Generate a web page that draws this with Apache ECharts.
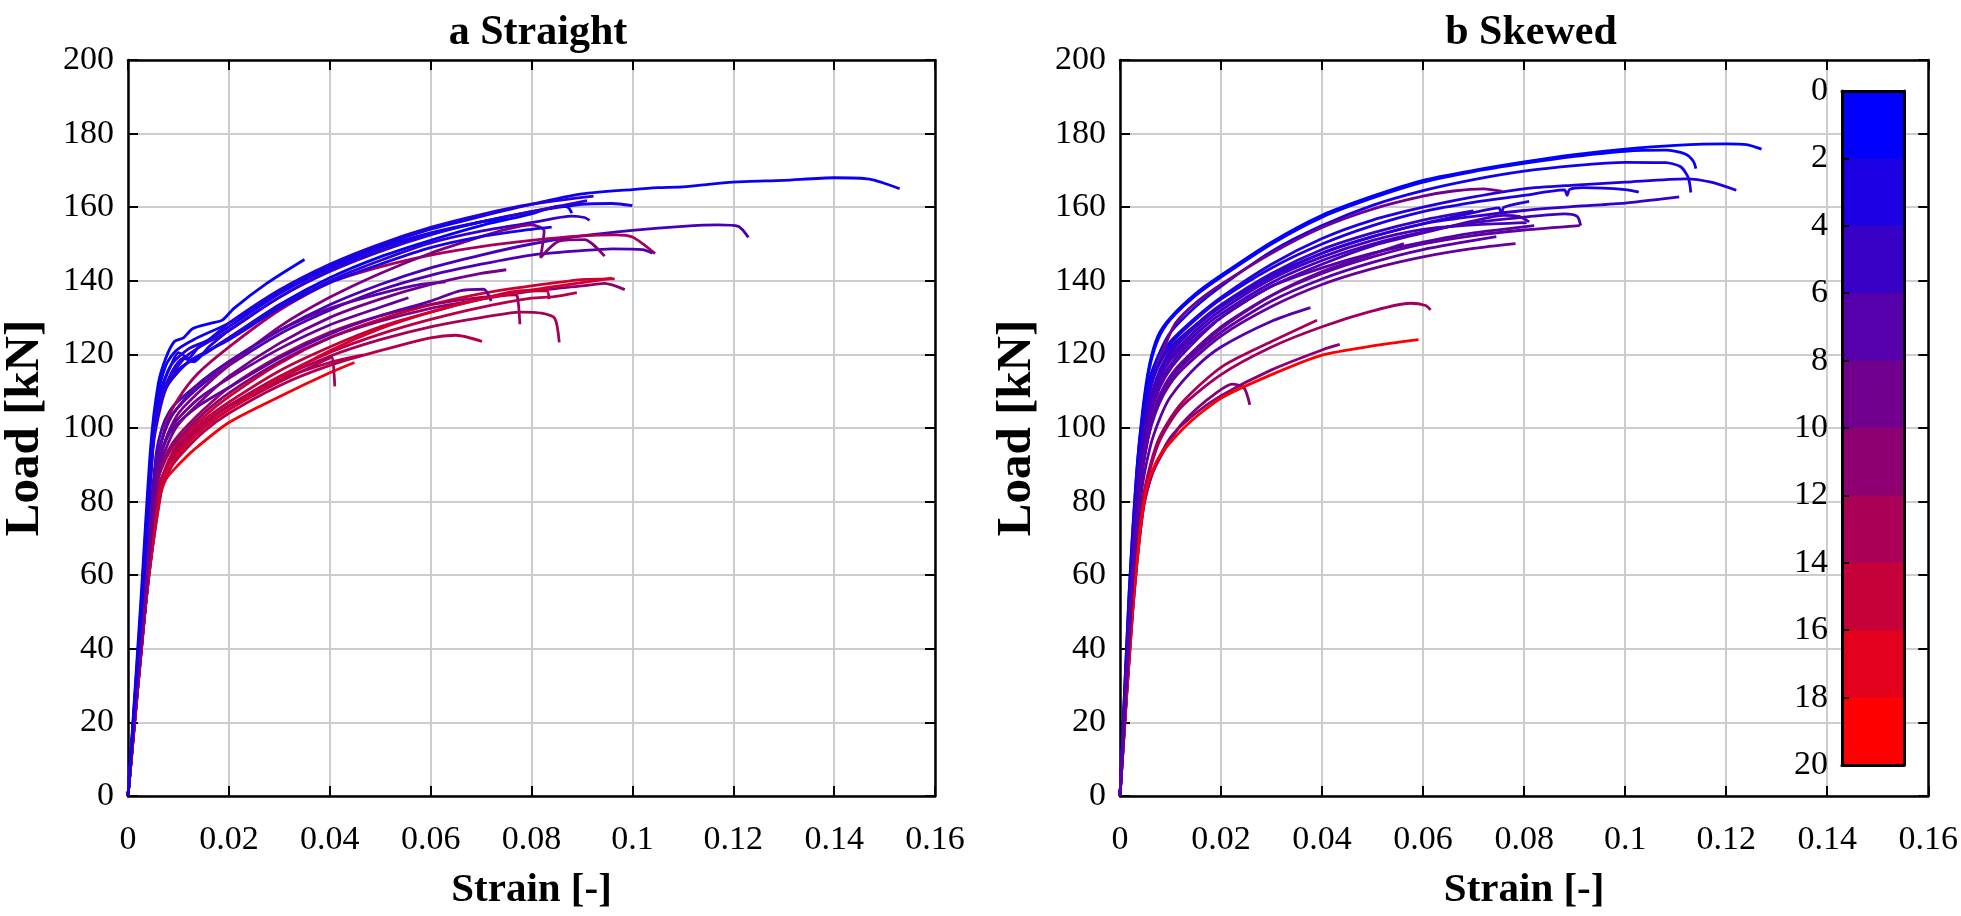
<!DOCTYPE html>
<html>
<head>
<meta charset="utf-8">
<script src="https://cdn.jsdelivr.net/npm/echarts@6/dist/echarts.min.js"></script>
<style>html,body{margin:0;padding:0;background:#fff;}#chart{width:1961px;height:916px;}</style>
</head>
<body>
<div id="chart"></div>
<script>
// ---- tick values ----
const strainTicks = [0, 0.02, 0.04, 0.06, 0.08, 0.1, 0.12, 0.14, 0.16];
const loadTicks = [0, 20, 40, 60, 80, 100, 120, 140, 160, 180, 200];
const colorbarTicks = [0, 2, 4, 6, 8, 10, 12, 14, 16, 18, 20];

// ---- panel a: Straight (colour level of each curve, then [strain, load] points) ----
const straightLevels = [1, 0.5, 3, 2, 0, 4, 5.5, 13, 6, 10, 16, 11, 15, 14.5, 13, 12.5, 7, 8, 7.5, 14, 19, 13, 14, 16.5, 2, 4, 9, 1.5];
const straightCurves = [
 [[0,0],[0.0025,50],[0.0045,92],[0.0058,108],[0.0075,117],[0.0095,121],[0.013,124],[0.02,128.5],[0.03,137],[0.04,144],[0.05,149.5],[0.06,154],[0.07,157.5],[0.08,160.8],[0.09,163.6],[0.1,164.8],[0.105,165.3],[0.11,165.5],[0.12,166.8],[0.13,167.3],[0.14,168],[0.147,167.6],[0.153,165]],
 [[0,0],[0.0025,52],[0.0045,95],[0.006,112],[0.0075,119],[0.0092,123.5],[0.011,124.5],[0.0128,127],[0.0165,128.5],[0.0187,129.3],[0.021,132.5],[0.0275,139.3],[0.035,145.8]],
 [[0,0],[0.003,55],[0.005,98],[0.0065,110],[0.0085,117],[0.012,121.5],[0.016,124],[0.02,128.5],[0.03,137.5],[0.04,144.5],[0.05,150],[0.06,154.5],[0.07,158],[0.08,160.8],[0.0923,163]],
 [[0,0],[0.003,55],[0.005,96],[0.0065,108],[0.009,116],[0.011,119],[0.013,118],[0.016,122],[0.02,126.5],[0.03,135.5],[0.04,142.8],[0.05,148.3],[0.06,152.7],[0.07,156],[0.08,158.8],[0.09,160.8],[0.096,161],[0.1,160.4]],
 [[0,0],[0.003,58],[0.0052,100],[0.0065,108],[0.008,113],[0.011,117],[0.015,120],[0.02,124.5],[0.03,133.5],[0.04,140.8],[0.05,146.5],[0.06,151],[0.07,155],[0.08,158.2],[0.0855,160.3],[0.0872,160],[0.088,158.4]],
 [[0,0],[0.003,55],[0.005,95],[0.0065,106],[0.008,112],[0.012,118],[0.016,121],[0.02,124.5],[0.03,133],[0.04,140],[0.05,145.5],[0.06,150.3],[0.07,153.5],[0.08,155.8],[0.088,157.6],[0.0905,157.2],[0.0915,156.4]],
 [[0,0],[0.003,52],[0.0055,92],[0.007,101],[0.009,106],[0.014,112],[0.02,118],[0.03,126.5],[0.04,133.5],[0.05,139],[0.06,143.5],[0.07,147],[0.08,150],[0.09,152.2],[0.1,153.7],[0.11,154.8],[0.117,155.2],[0.121,154.8],[0.123,151.8]],
 [[0,0],[0.0035,55],[0.006,90],[0.0075,101],[0.01,108],[0.014,115],[0.02,122],[0.03,132],[0.04,139.5],[0.05,143.8],[0.06,147],[0.07,149.3],[0.08,151],[0.09,152.2],[0.0965,152.5],[0.1,151.9],[0.1045,147.4]],
 [[0,0],[0.003,52],[0.0055,90],[0.007,98],[0.009,104],[0.014,111],[0.02,117],[0.03,125.5],[0.04,132],[0.05,137.5],[0.06,141.5],[0.07,144.5],[0.08,147],[0.09,148.2],[0.096,148.7],[0.102,148.5],[0.104,147.5]],
 [[0,0],[0.0035,55],[0.006,88],[0.0075,97],[0.01,104],[0.015,111],[0.02,117],[0.03,127.5],[0.04,135.5],[0.05,142],[0.06,147.5],[0.07,152],[0.075,154],[0.08,155.2],[0.0825,153.6],[0.0818,146.3],[0.0855,150.8],[0.0905,151.2],[0.0945,146.7]],
 [[0,0],[0.0035,55],[0.0065,85],[0.008,91],[0.01,96],[0.015,103],[0.02,108.5],[0.03,117.5],[0.04,124.5],[0.05,129.5],[0.06,133.5],[0.07,136.5],[0.08,138.6],[0.09,140.3],[0.0965,140.5]],
 [[0,0],[0.0035,55],[0.006,86],[0.008,93],[0.01,97],[0.015,104],[0.02,109.5],[0.03,118],[0.04,124.5],[0.05,129],[0.06,132.5],[0.07,135],[0.08,137.2],[0.09,138.6],[0.0945,139.3],[0.0985,137.6]],
 [[0,0],[0.0035,52],[0.0065,84],[0.008,90],[0.01,95],[0.015,102],[0.02,107],[0.03,115.5],[0.04,122],[0.05,127.5],[0.06,131.5],[0.07,135],[0.078,137.3],[0.083,137.3],[0.0835,135]],
 [[0,0],[0.0035,52],[0.0065,83],[0.008,89],[0.01,94],[0.015,101],[0.02,106],[0.03,114],[0.04,120.5],[0.05,125.5],[0.06,129.5],[0.07,132.8],[0.08,135.3],[0.0845,135.7],[0.089,136.8]],
 [[0,0],[0.0035,52],[0.006,84],[0.008,90],[0.01,95],[0.015,101],[0.02,106],[0.03,113.5],[0.04,119.5],[0.05,124],[0.06,127.5],[0.07,130],[0.078,131.5],[0.082,131.2],[0.0846,129.8],[0.0855,123.3]],
 [[0,0],[0.0035,55],[0.006,87],[0.008,94],[0.01,98],[0.015,105],[0.02,111],[0.03,119.5],[0.04,126],[0.05,130.5],[0.06,133.5],[0.07,135.5],[0.0765,136.2],[0.0772,135.8],[0.0777,128.2]],
 [[0,0],[0.003,52],[0.0055,90],[0.007,98],[0.009,104],[0.014,112],[0.02,118],[0.03,126.5],[0.04,132.5],[0.05,136.5],[0.058,139],[0.063,139.7]],
 [[0,0],[0.003,52],[0.0055,88],[0.007,95],[0.009,101],[0.014,108],[0.02,113.5],[0.03,121.5],[0.04,128],[0.05,132.8],[0.0556,135.4]],
 [[0,0],[0.003,52],[0.0055,88],[0.007,95],[0.009,100],[0.014,106],[0.02,111],[0.03,119],[0.04,125.5],[0.05,130.5],[0.06,134.5],[0.066,137.3],[0.0705,137.7],[0.072,134.5]],
 [[0,0],[0.0035,52],[0.0065,82],[0.008,88],[0.01,92],[0.015,99],[0.02,104],[0.03,111.5],[0.04,117],[0.05,121],[0.06,124.5],[0.065,125.2],[0.0702,123.5]],
 [[0,0],[0.0035,55],[0.0055,78],[0.0075,86],[0.01,90],[0.013,94],[0.02,101.5],[0.03,108.5],[0.04,115],[0.0449,117.8]],
 [[0,0],[0.0035,52],[0.006,82],[0.008,88],[0.01,93],[0.015,100],[0.02,105],[0.03,112.5],[0.04,119],[0.0405,119.3],[0.041,111.3]],
 [[0,0],[0.0035,52],[0.006,84],[0.008,90],[0.01,94],[0.015,101],[0.02,106],[0.03,113],[0.04,117.8],[0.0466,119.9]],
 [[0,0],[0.0035,52],[0.0065,83],[0.008,89],[0.01,93],[0.015,100],[0.02,105],[0.03,113.5],[0.04,121],[0.05,127],[0.06,131.5],[0.07,135],[0.08,137.5],[0.09,139.5],[0.096,140.7]],
 [[0,0],[0.003,56],[0.005,97],[0.0065,107],[0.008,112],[0.012,118],[0.02,124],[0.03,132.5],[0.04,139.5],[0.05,144.5],[0.06,149],[0.07,152],[0.08,154],[0.084,154.6]],
 [[0,0],[0.003,55],[0.005,96],[0.0065,108],[0.008,113],[0.012,120],[0.02,126.5],[0.03,135.5],[0.04,142.5],[0.05,148],[0.06,152.5],[0.07,156],[0.08,158.8],[0.091,161.8]],
 [[0,0],[0.0035,54],[0.006,88],[0.008,96],[0.01,101],[0.015,108],[0.02,114],[0.03,123],[0.04,130],[0.05,135],[0.06,139],[0.07,142],[0.075,143]],
 [[0,0],[0.003,57],[0.005,99],[0.0065,110],[0.0085,117],[0.01,120.5],[0.012,119],[0.014,122],[0.02,127.5],[0.03,136.5],[0.04,143.5],[0.05,149],[0.06,153],[0.07,156],[0.075,157]]
];

// ---- panel b: Skewed ----
const skewedLevels = [0, 0.5, 1.5, 2.5, 2, 4, 5, 6, 8, 9, 3, 8, 7, 13, 12.5, 11, 10.5, 20, 6.5, 7.5, 4.5, 5.5, 7];
const skewedCurves = [
 [[0,0],[0.0018,55],[0.0033,88],[0.0045,105],[0.0058,117],[0.0075,125],[0.01,130],[0.015,136.5],[0.02,141.5],[0.03,150.5],[0.04,157.8],[0.05,163],[0.06,167.3],[0.07,170],[0.08,172.3],[0.09,174.3],[0.1,175.8],[0.11,176.8],[0.12,177.2],[0.124,177],[0.127,175.8]],
 [[0,0],[0.0018,55],[0.0033,88],[0.0045,104],[0.0058,116],[0.0075,124],[0.01,129.5],[0.015,136],[0.02,141],[0.03,150],[0.04,157.3],[0.05,162.5],[0.06,166.8],[0.07,169.7],[0.08,171.9],[0.09,173.8],[0.1,175.2],[0.108,175.5],[0.112,174.4],[0.1135,172.5],[0.114,170.5]],
 [[0,0],[0.0019,55],[0.0035,88],[0.0047,104],[0.006,114],[0.008,121],[0.01,126],[0.015,133],[0.02,138.5],[0.03,148],[0.04,155],[0.05,160.5],[0.06,164.5],[0.07,167.5],[0.08,169.8],[0.09,171.3],[0.1,172.2],[0.108,172.1],[0.111,171],[0.1125,168],[0.113,164]],
 [[0,0],[0.002,55],[0.0036,88],[0.0048,103],[0.006,112],[0.008,119],[0.01,123.5],[0.015,130],[0.02,135.5],[0.03,144.5],[0.04,151.5],[0.05,156.5],[0.06,160],[0.07,162.8],[0.08,165],[0.09,166],[0.1,166.8],[0.112,167.7],[0.117,166.8],[0.122,164.6]],
 [[0,0],[0.002,55],[0.0036,88],[0.0048,103],[0.006,112],[0.008,119],[0.01,123],[0.015,129.5],[0.02,135],[0.03,143.5],[0.04,150],[0.05,155],[0.06,158.8],[0.07,161.3],[0.08,163.2],[0.088,164.7],[0.0885,163.2],[0.089,164.8],[0.0916,165.3],[0.1,164.8],[0.1027,164.1]],
 [[0,0],[0.002,52],[0.0038,86],[0.005,100],[0.0065,110],[0.008,116],[0.01,120.5],[0.015,127.5],[0.02,133],[0.03,141],[0.04,147.5],[0.05,152],[0.06,155.5],[0.07,157.5],[0.08,159.1],[0.09,160.2],[0.1,161.1],[0.107,162.2],[0.1107,162.8]],
 [[0,0],[0.002,52],[0.0038,85],[0.005,99],[0.0065,108],[0.008,114],[0.01,118.5],[0.015,125.5],[0.02,131],[0.03,139.5],[0.04,145.5],[0.05,150],[0.06,153.3],[0.07,155.8],[0.08,157.3],[0.088,158.2],[0.0905,157.5],[0.0912,155]],
 [[0,0],[0.0021,52],[0.0039,85],[0.0052,99],[0.0068,108],[0.0085,114],[0.011,119],[0.015,124.5],[0.02,130],[0.03,138.5],[0.04,144.5],[0.05,149.5],[0.06,153],[0.07,156.3],[0.076,157.8],[0.079,157.5],[0.081,156]],
 [[0,0],[0.0022,52],[0.004,84],[0.0055,97],[0.007,104],[0.009,110],[0.012,115.5],[0.02,125],[0.03,133],[0.04,139],[0.05,143.3],[0.06,146.5],[0.07,148.8],[0.0783,150.1]],
 [[0,0],[0.002,52],[0.0037,87],[0.005,103],[0.0065,113],[0.0085,121],[0.011,128.5],[0.015,134],[0.02,139],[0.03,147.5],[0.04,154.5],[0.05,159.5],[0.06,163],[0.066,164.4],[0.072,165],[0.0757,164.3]],
 [[0,0],[0.002,54],[0.0036,87],[0.0048,102],[0.006,111],[0.008,118],[0.01,122],[0.015,128],[0.02,133],[0.03,141.5],[0.04,147.5],[0.05,152],[0.06,155.5],[0.07,158.5],[0.075,159.8],[0.0755,158.3],[0.076,160],[0.081,161.6]],
 [[0,0],[0.0022,52],[0.004,84],[0.0055,97],[0.007,105],[0.009,111],[0.012,117],[0.02,127],[0.03,136],[0.04,142.5],[0.05,147.3],[0.0562,150.1]],
 [[0,0],[0.0023,52],[0.0042,82],[0.006,95],[0.008,103],[0.01,108.5],[0.015,116.5],[0.02,122],[0.03,129],[0.0377,132.7]],
 [[0,0],[0.0024,50],[0.0045,80],[0.006,90],[0.008,98],[0.012,106.5],[0.02,116.5],[0.03,123.5],[0.039,129.3]],
 [[0,0],[0.0024,50],[0.0045,80],[0.006,89],[0.008,97],[0.012,105.5],[0.02,114.5],[0.03,122],[0.04,127.5],[0.05,131.8],[0.0575,133.9],[0.0605,133.3],[0.0615,132.1]],
 [[0,0],[0.0025,50],[0.0046,78],[0.0065,88],[0.01,97.5],[0.015,104],[0.02,108.8],[0.03,115.8],[0.04,121.2],[0.0435,122.7]],
 [[0,0],[0.0025,50],[0.0046,78],[0.0065,88],[0.0113,99.5],[0.015,105],[0.019,109.5],[0.0222,111.9],[0.0245,111],[0.0257,106.3]],
 [[0,0],[0.0022,45],[0.004,72],[0.0055,85],[0.008,92.7],[0.0133,100.9],[0.02,108.1],[0.03,114.5],[0.04,119.8],[0.05,122.3],[0.0591,124]],
 [[0,0],[0.0021,52],[0.0039,85],[0.0052,99],[0.007,108],[0.009,114],[0.012,119.5],[0.02,130],[0.03,138.5],[0.04,143.5],[0.05,147.5],[0.06,150.5],[0.07,153],[0.082,155]],
 [[0,0],[0.0022,52],[0.004,84],[0.0055,98],[0.007,106],[0.009,112],[0.012,117.5],[0.02,127.5],[0.03,136],[0.04,142],[0.05,146.5],[0.06,150],[0.07,152.3],[0.08,153.8],[0.091,155]],
 [[0,0],[0.002,53],[0.0037,86],[0.005,101],[0.0065,110],[0.008,116],[0.01,121],[0.015,128],[0.02,133.5],[0.03,142],[0.04,148.5],[0.05,153],[0.06,156.5],[0.07,159]],
 [[0,0],[0.002,53],[0.0037,86],[0.005,100],[0.0065,109],[0.008,115],[0.01,119.5],[0.015,126.5],[0.02,132],[0.03,140.5],[0.04,146.5],[0.05,151],[0.06,154],[0.07,155.2],[0.0805,155.8]],
 [[0,0],[0.0022,52],[0.004,84],[0.0055,97],[0.007,104.5],[0.009,110.5],[0.012,116.5],[0.02,126],[0.03,134.5],[0.04,140.5],[0.05,145],[0.06,148.5],[0.0745,152]]
];

// ---- colorbar: 10 bands across 0..20 ----
const colorbarBands = [0, 1, 2, 3, 4, 5, 6, 7, 8, 9];

const FONT = 'Liberation Serif';
function levelColor(v) {
  const t = Math.max(0, Math.min(1, v / 20));
  return 'rgb(' + Math.round(255 * t) + ',0,' + Math.round(255 * (1 - t)) + ')';
}
function fmt(v) { return String(parseFloat(Number(v).toFixed(3))); }

const tickFont = { fontFamily: FONT, fontSize: 34, color: '#000' };
const xNameFont = { fontFamily: FONT, fontSize: 41, fontWeight: 'bold', color: '#000' };
const yNameFont = { fontFamily: FONT, fontSize: 49, fontWeight: 'bold', color: '#000' };
const sMin = strainTicks[0], sMax = strainTicks[strainTicks.length - 1], sInt = strainTicks[1] - strainTicks[0];
const lMin = loadTicks[0], lMax = loadTicks[loadTicks.length - 1], lInt = loadTicks[1] - loadTicks[0];
const gridLine = { color: '#cdcdcd', width: 2 };

function mkX(gi, main) {
  return {
    type: 'value', gridIndex: gi, position: main ? 'bottom' : 'top',
    min: sMin, max: sMax, interval: sInt,
    axisLine: { show: true, onZero: false, lineStyle: { color: '#000', width: 2.5 } },
    axisTick: { show: true, inside: true, length: 10, lineStyle: { color: '#000', width: 2 } },
    axisLabel: { show: main, margin: 27, formatter: fmt, ...tickFont },
    splitLine: { show: main, lineStyle: gridLine },
    name: main ? 'Strain [-]' : '', nameLocation: 'middle', nameGap: 74, nameTextStyle: xNameFont
  };
}
function mkY(gi, main) {
  return {
    type: 'value', gridIndex: gi, position: main ? 'left' : 'right',
    min: lMin, max: lMax, interval: lInt,
    axisLine: { show: true, onZero: false, lineStyle: { color: '#000', width: 2.5 } },
    axisTick: { show: true, inside: true, length: 10, lineStyle: { color: '#000', width: 2 } },
    axisLabel: { show: main, margin: 14, formatter: fmt, ...tickFont },
    splitLine: { show: main, lineStyle: gridLine },
    name: main ? 'Load [kN]' : '', nameLocation: 'middle', nameGap: 78, nameRotate: 90, nameTextStyle: yNameFont
  };
}

const series = [];
straightCurves.forEach(function (pts, i) {
  series.push({ type: 'line', xAxisIndex: 0, yAxisIndex: 0, data: pts, showSymbol: false, smooth: 0.25,
    silent: true, lineStyle: { width: 2.8, color: levelColor(straightLevels[i]) } });
});
skewedCurves.forEach(function (pts, i) {
  series.push({ type: 'line', xAxisIndex: 2, yAxisIndex: 2, data: pts, showSymbol: false, smooth: 0.25,
    silent: true, lineStyle: { width: 2.8, color: levelColor(skewedLevels[i]) } });
});
// colorbar: overlapping bars from 0 to each band's end, deepest band drawn first so no seams show
const bandSize = colorbarTicks[colorbarTicks.length - 1] / colorbarBands.length;
colorbarBands.slice().reverse().forEach(function (b, k) {
  const c = levelColor(20 * b / (colorbarBands.length - 1));
  series.push({ type: 'bar', xAxisIndex: 4, yAxisIndex: 4, barWidth: '100%', barGap: '-100%', silent: true,
    z: 2 + k * 0.01, data: [(b + 1) * bandSize], itemStyle: { color: c } });
});

const cbLine = { show: true, onZero: false, lineStyle: { color: '#000', width: 3 } };
const option = {
  backgroundColor: '#fff',
  animation: false,
  title: [
    { text: 'a Straight', left: 533, top: 7, textAlign: 'center', textStyle: { fontFamily: FONT, fontSize: 42, fontWeight: 'bold', color: '#000' } },
    { text: 'b Skewed', left: 1526, top: 7, textAlign: 'center', textStyle: { fontFamily: FONT, fontSize: 42, fontWeight: 'bold', color: '#000' } }
  ],
  grid: [
    { left: 125, top: 60, width: 810, height: 737.5 },
    { left: 1120, top: 60, width: 812.5, height: 737.5 },
    { left: 1842, top: 91, width: 62, height: 674 }
  ],
  xAxis: [
    mkX(0, true), mkX(0, false), mkX(1, true), mkX(1, false),
    { type: 'category', gridIndex: 2, position: 'bottom', data: [''], z: 10, axisLine: cbLine, axisTick: { show: false }, axisLabel: { show: false }, splitLine: { show: false } },
    { type: 'category', gridIndex: 2, position: 'top', data: [''], z: 10, axisLine: cbLine, axisTick: { show: false }, axisLabel: { show: false }, splitLine: { show: false } }
  ],
  yAxis: [
    mkY(0, true), mkY(0, false), mkY(1, true), mkY(1, false),
    { type: 'value', gridIndex: 2, position: 'left', inverse: true, z: 10,
      min: colorbarTicks[0], max: colorbarTicks[colorbarTicks.length - 1], interval: colorbarTicks[1] - colorbarTicks[0],
      axisLine: cbLine, axisTick: { show: true, inside: true, length: 7, lineStyle: { color: '#000', width: 2 } },
      axisLabel: { show: true, margin: 14, ...tickFont }, splitLine: { show: false } },
    { type: 'value', gridIndex: 2, position: 'right', inverse: true, z: 10,
      min: colorbarTicks[0], max: colorbarTicks[colorbarTicks.length - 1],
      axisLine: cbLine, axisTick: { show: false }, axisLabel: { show: false }, splitLine: { show: false } }
  ],
  series: series
};
const chart = echarts.init(document.getElementById('chart'), null, { renderer: 'canvas' });
chart.setOption(option);
</script>
</body>
</html>
